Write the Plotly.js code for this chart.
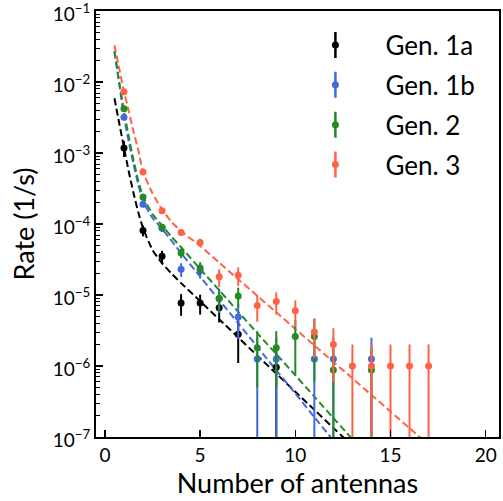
<!DOCTYPE html>
<html>
<head>
<meta charset="utf-8">
<script src="https://cdn.plot.ly/plotly-3.0.1.min.js"></script>
<style>html,body{margin:0;padding:0;background:#fff;}#chart{width:503px;height:501px;}</style>
</head>
<body>
<div id="chart"></div>
<script>
// ---- data ----
const seriesNames = ["Gen. 1a", "Gen. 1b", "Gen. 2", "Gen. 3"];

const nGen1a = [1, 2, 3, 4, 5, 6, 7, 9];
const rateGen1a = [1.18e-3, 8.1e-5, 3.5e-5, 7.7e-6, 7.7e-6, 6.6e-6, 2.8e-6, 9.6e-7];
const errGen1a = [3.0e-4, 1.4e-5, 7.0e-6, 2.6e-6, 2.4e-6, 2.5e-6, 1.7e-6, 9.6e-7];

const nGen1b = [1, 2, 3, 4, 5, 6, 7, 8, 9, 11, 12, 14];
const rateGen1b = [3.2e-3, 1.9e-4, 8.7e-5, 2.3e-5, 2.2e-5, 8.9e-6, 4.9e-6, 1.25e-6, 1.25e-6, 1.25e-6, 1.25e-6, 1.25e-6];
const errGen1b = [6.0e-5, 1.5e-5, 1.0e-5, 5.0e-6, 5.0e-6, 3.3e-6, 2.5e-6, 1.25e-6, 1.25e-6, 1.25e-6, 1.25e-6, 1.25e-6];

const nGen2 = [1, 2, 3, 4, 5, 6, 7, 8, 9, 10, 11, 12, 14];
const rateGen2 = [4.2e-3, 2.4e-4, 9.0e-5, 3.9e-5, 2.4e-5, 8.9e-6, 9.7e-6, 1.8e-6, 1.8e-6, 2.6e-6, 2.6e-6, 8.8e-7, 8.8e-7];
const errGen2 = [6.0e-5, 1.5e-5, 9.0e-6, 6.0e-6, 5.0e-6, 2.8e-6, 3.0e-6, 1.3e-6, 1.3e-6, 1.85e-6, 2.0e-6, 8.8e-7, 8.8e-7];

const nGen3 = [1, 2, 3, 4, 5, 6, 7, 8, 9, 10, 11, 12, 13, 14, 15, 16, 17];
const rateGen3 = [7.3e-3, 5.4e-4, 1.54e-4, 7.6e-5, 5.5e-5, 1.8e-5, 1.9e-5, 7.1e-6, 8.1e-6, 6.0e-6, 3.0e-6, 2.0e-6, 1.0e-6, 1.0e-6, 1.0e-6, 1.0e-6, 1.0e-6];
const errGen3 = [1.0e-4, 1.5e-5, 1.0e-5, 8.0e-6, 7.0e-6, 5.0e-6, 5.5e-6, 2.9e-6, 2.8e-6, 2.4e-6, 1.7e-6, 1.4e-6, 1.0e-6, 1.0e-6, 1.0e-6, 1.0e-6, 1.0e-6];

// dashed fit curves, sampled along the picture
const nFit = [0.5, 0.75, 1, 1.25, 1.5, 1.75, 2, 2.5, 3, 3.5, 4, 5, 6, 7, 8, 9, 10, 11, 12, 13, 14, 15, 16, 17];
const fitGen1a = [5.9e-3, 2.63e-3, 1.19e-3, 5.5e-4, 2.74e-4, 1.46e-4, 8.8e-5, 4.3e-5, 2.8e-5, 2.0e-5, 1.47e-5, 8.2e-6, 4.54e-6, 2.53e-6, 1.40e-6, 7.8e-7, 4.34e-7, 2.41e-7, 1.34e-7, 7.5e-8];
const fitGen1b = [2.7e-2, 9.5e-3, 3.3e-3, 1.45e-3, 7.0e-4, 3.6e-4, 2.1e-4, 1.22e-4, 8.5e-5, 5.8e-5, 3.9e-5, 1.82e-5, 8.5e-6, 4.0e-6, 1.86e-6, 8.7e-7, 4.1e-7, 1.9e-7, 8.9e-8];
const fitGen2 = [2.75e-2, 1.0e-2, 3.9e-3, 1.7e-3, 8.0e-4, 4.1e-4, 2.45e-4, 1.38e-4, 9.5e-5, 6.6e-5, 4.7e-5, 2.33e-5, 1.17e-5, 5.8e-6, 2.9e-6, 1.47e-6, 7.4e-7, 3.7e-7, 1.85e-7, 9.3e-8];
const fitGen3 = [3.3e-2, 1.55e-2, 7.3e-3, 3.9e-3, 2.0e-3, 1.1e-3, 5.5e-4, 2.7e-4, 1.6e-4, 1.07e-4, 7.9e-5, 4.9e-5, 2.85e-5, 1.67e-5, 9.75e-6, 5.7e-6, 3.33e-6, 1.95e-6, 1.14e-6, 6.7e-7, 3.9e-7, 2.28e-7, 1.33e-7, 7.8e-8];

const xTickVals = [0, 5, 10, 15, 20];
const yTickVals = [1e-7, 1e-6, 1e-5, 1e-4, 1e-3, 1e-2, 1e-1];
const yTickText = ["10<sup>\u22127</sup>", "10<sup>\u22126</sup>", "10<sup>\u22125</sup>", "10<sup>\u22124</sup>", "10<sup>\u22123</sup>", "10<sup>\u22122</sup>", "10<sup>\u22121</sup>"];

// ---- styling ----
const colors = ["#000000", "#4169E1", "#228B22", "#FF6347"];
const FONT = "Lato, 'DejaVu Sans', sans-serif";

const pts = [
  [nGen1a, rateGen1a, errGen1a],
  [nGen1b, rateGen1b, errGen1b],
  [nGen2, rateGen2, errGen2],
  [nGen3, rateGen3, errGen3]
];
const fits = [fitGen1a, fitGen1b, fitGen2, fitGen3];

const traces = [];
fits.forEach((f, i) => {
  traces.push({
    x: nFit, y: f, type: "scatter", mode: "lines",
    line: {color: colors[i], width: 2, dash: "7px,3.5px", shape: "spline", smoothing: 0.6},
    showlegend: false, hoverinfo: "skip", cliponaxis: true
  });
});
pts.forEach((p, i) => {
  traces.push({
    x: p[0], y: p[1], type: "scatter", mode: "markers",
    name: seriesNames[i], legendgroup: "g" + i,
    marker: {color: colors[i], size: 7},
    error_y: {type: "data", array: p[2], visible: true, color: colors[i], thickness: 2, width: 0},
    cliponaxis: true
  });
});

const minorVals = [];
for (let e = -7; e < -1; e++) {
  for (let k = 2; k <= 9; k++) minorVals.push(k * Math.pow(10, e));
}

const layout = {
  width: 503, height: 501,
  margin: {l: 96, r: 4, t: 11, b: 64},
  paper_bgcolor: "#ffffff", plot_bgcolor: "#ffffff",
  font: {family: FONT, color: "#000000", size: 20},
  showlegend: true,
  legend: {
    x: 0.47, y: 0.975, xanchor: "left", yanchor: "top",
    bgcolor: "rgba(0,0,0,0)", borderwidth: 0,
    font: {family: FONT, size: 26, color: "#000"},
    itemwidth: 90, traceorder: "grouped", tracegroupgap: 3
  },
  xaxis: {
    range: [-0.47, 20.7], tickmode: "array", tickvals: xTickVals,
    ticks: "inside", ticklen: 7, tickwidth: 1.5, tickcolor: "#000",
    showline: true, linecolor: "#000", linewidth: 2, mirror: true,
    showgrid: false, zeroline: false,
    tickfont: {family: FONT, size: 19},
    title: {text: "Number of antennas", font: {family: FONT, size: 27}, standoff: 8}
  },
  yaxis: {
    type: "log", range: [-7.0005, -0.9995], tickmode: "array", tickvals: yTickVals, ticktext: yTickText,
    ticklabeloverflow: "allow", ticklabelshift: 3,
    ticks: "inside", ticklen: 7, tickwidth: 1.5, tickcolor: "#000",
    minor: {tickmode: "array", tickvals: minorVals, ticks: "inside", ticklen: 4, tickwidth: 1, tickcolor: "#000", showgrid: false},
    showline: true, linecolor: "#000", linewidth: 2, mirror: true,
    showgrid: false, zeroline: false,
    tickfont: {family: FONT, size: 19},
    title: {text: "Rate (1/s)", font: {family: FONT, size: 27}, standoff: 10}
  }
};

Plotly.newPlot("chart", traces, layout, {displayModeBar: false, staticPlot: true}).then(gd => {
  // add the vertical error-bar stroke to each legend symbol
  const NS = "http://www.w3.org/2000/svg";
  const items = gd.querySelectorAll(".legend .traces");
  items.forEach((item, i) => {
    const pt = item.querySelector(".legendpoints path.scatterpts");
    if (!pt) return;
    const tr = pt.getAttribute("transform") || "translate(20,0)";
    const m = /translate\(([-\d.]+),\s*([-\d.]+)\)/.exec(tr);
    const x = m ? parseFloat(m[1]) : 20, y = m ? parseFloat(m[2]) : 0;
    const line = document.createElementNS(NS, "path");
    line.setAttribute("d", "M" + x + "," + (y - 13) + "V" + (y + 13));
    line.setAttribute("stroke", colors[i]);
    line.setAttribute("stroke-width", "2.5");
    line.setAttribute("fill", "none");
    pt.parentNode.insertBefore(line, pt);
  });
});
</script>
</body>
</html>
